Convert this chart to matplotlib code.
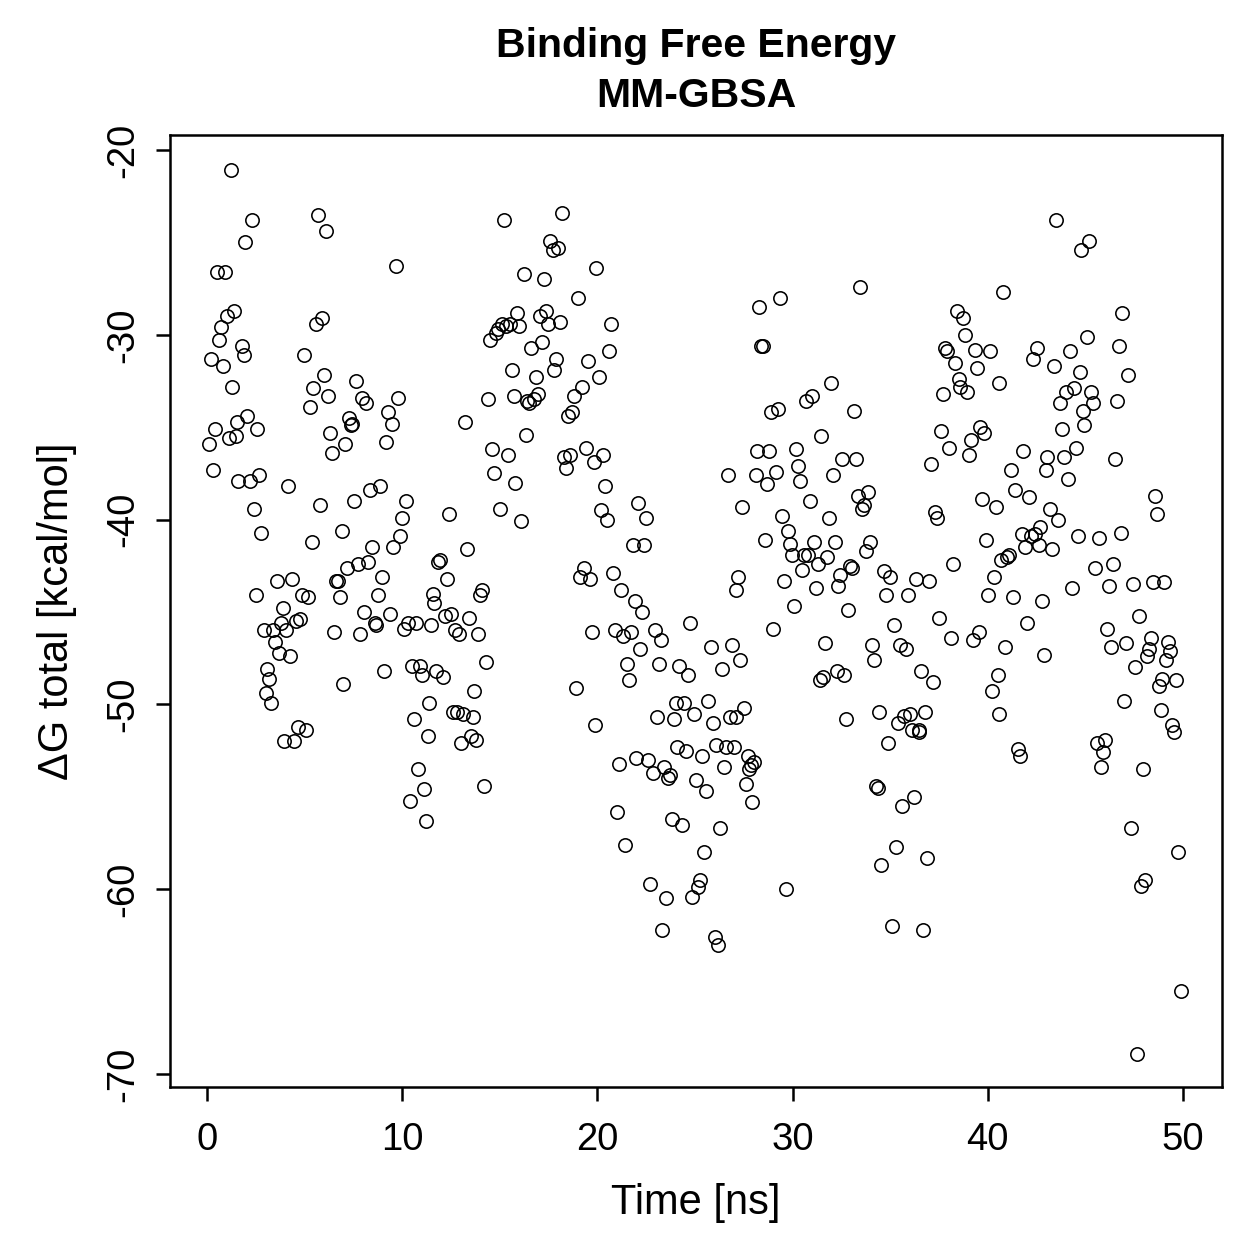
import matplotlib
matplotlib.use("Agg")
import matplotlib.pyplot as plt

# Time [ns] and dG total [kcal/mol]
time_ns = [
0.1,0.2,0.3,0.4,0.5,0.6,0.7,0.8,0.9,1.0,1.1,1.2,1.3,1.4,1.5,1.55,1.6,1.8,1.9,1.95,
2.05,2.2,2.3,2.4,2.5,2.55,2.65,2.75,2.9,3.0,3.05,3.15,3.3,3.4,3.5,3.6,3.7,3.8,3.9,3.95,
4.05,4.15,4.25,4.35,4.45,4.55,4.65,4.75,4.85,4.95,5.05,5.15,5.25,5.4,5.45,5.6,5.7,5.8,5.9,6.0,
6.1,6.2,6.3,6.4,6.5,6.6,6.7,6.8,6.9,6.95,7.05,7.15,7.25,7.35,7.45,7.55,7.65,7.75,7.85,7.95,
8.05,8.15,8.25,8.35,8.45,8.6,8.65,8.75,8.85,8.95,9.05,9.15,9.25,9.35,9.45,9.55,9.7,9.8,9.9,10.0,
10.1,10.2,10.3,10.4,10.5,10.6,10.7,10.8,10.9,11.0,11.1,11.2,11.3,11.35,11.45,11.55,11.65,11.75,11.85,11.95,
12.1,12.2,12.3,12.4,12.5,12.6,12.7,12.8,12.9,13.0,13.1,13.2,13.3,13.4,13.5,13.6,13.7,13.8,13.9,14.0,
14.1,14.2,14.3,14.4,14.5,14.6,14.7,14.8,14.9,15.0,15.1,15.2,15.3,15.4,15.5,15.6,15.7,15.8,15.9,16.0,
16.1,16.25,16.35,16.4,16.5,16.6,16.75,16.85,16.95,17.05,17.15,17.25,17.35,17.45,17.55,17.7,17.8,17.9,18.0,18.1,
18.2,18.3,18.4,18.5,18.6,18.7,18.8,18.9,19.0,19.1,19.2,19.3,19.4,19.5,19.6,19.7,19.8,19.9,19.95,20.1,
20.2,20.3,20.4,20.5,20.6,20.7,20.8,20.9,21.0,21.1,21.2,21.3,21.4,21.5,21.6,21.7,21.8,21.9,22.0,22.1,
22.2,22.3,22.4,22.5,22.6,22.7,22.85,22.95,23.05,23.15,23.25,23.3,23.4,23.5,23.6,23.7,23.8,23.9,24.0,24.1,
24.2,24.35,24.45,24.55,24.65,24.75,24.85,24.95,25.05,25.15,25.25,25.35,25.45,25.55,25.65,25.8,25.9,26.0,26.1,26.2,
26.3,26.4,26.5,26.6,26.7,26.8,26.9,27.0,27.1,27.1,27.2,27.3,27.4,27.5,27.6,27.7,27.75,27.85,27.9,28.0,
28.1,28.2,28.3,28.4,28.5,28.6,28.7,28.8,28.9,29.0,29.15,29.25,29.35,29.45,29.55,29.65,29.75,29.85,29.95,30.05,
30.15,30.3,30.4,30.5,30.6,30.7,30.8,30.9,31.0,31.1,31.2,31.3,31.4,31.45,31.55,31.65,31.75,31.85,31.95,32.05,
32.15,32.25,32.35,32.45,32.55,32.65,32.75,32.85,32.95,33.05,33.15,33.25,33.35,33.45,33.55,33.65,33.75,33.85,33.95,34.05,
34.15,34.25,34.35,34.45,34.55,34.7,34.8,34.9,35.0,35.1,35.2,35.3,35.4,35.5,35.6,35.7,35.8,35.9,36.0,36.1,
36.2,36.3,36.45,36.5,36.6,36.7,36.8,36.9,37.0,37.1,37.2,37.3,37.4,37.5,37.6,37.7,37.8,37.9,38.0,38.1,
38.2,38.3,38.4,38.5,38.6,38.75,38.85,38.95,39.05,39.15,39.25,39.35,39.45,39.55,39.6,39.7,39.8,39.9,40.0,40.1,
40.2,40.3,40.4,40.5,40.55,40.6,40.7,40.8,40.9,41.0,41.1,41.2,41.3,41.4,41.55,41.65,41.75,41.8,41.9,42.0,
42.1,42.2,42.3,42.4,42.5,42.6,42.7,42.8,42.9,43.0,43.05,43.2,43.3,43.4,43.5,43.6,43.7,43.8,43.9,44.0,
44.1,44.2,44.3,44.4,44.5,44.6,44.7,44.8,44.9,44.95,45.1,45.2,45.3,45.4,45.5,45.6,45.7,45.8,45.9,46.0,
46.1,46.2,46.3,46.4,46.5,46.6,46.7,46.8,46.9,47.0,47.1,47.2,47.35,47.45,47.55,47.65,47.75,47.85,47.95,48.05,
48.15,48.25,48.35,48.45,48.55,48.65,48.75,48.85,48.95,49.05,49.15,49.25,49.35,49.45,49.55,49.65,49.75,49.9,
]

dg_total = [
-35.9,-31.3,-37.3,-35.1,-26.6,-30.3,-29.6,-31.7,-26.6,-29.0,-35.6,-21.1,-32.8,-28.7,-35.5,-34.7,-37.9,-30.6,-31.1,-25.0,
-34.4,-37.9,-23.8,-39.4,-44.1,-35.1,-37.6,-40.7,-46.0,-49.4,-48.1,-48.6,-49.9,-46.0,-46.6,-43.3,-47.2,-45.6,-44.8,-52.0,
-46.0,-38.2,-47.4,-43.2,-52.0,-45.5,-51.2,-45.4,-44.1,-31.1,-51.4,-44.2,-33.9,-41.2,-32.9,-29.4,-23.5,-39.2,-29.1,-32.2,
-24.4,-33.3,-35.3,-36.4,-46.1,-43.3,-43.3,-44.2,-40.6,-48.9,-35.9,-42.6,-34.5,-34.9,-34.8,-39.0,-32.5,-42.4,-46.2,-33.4,
-45.0,-33.7,-42.3,-38.4,-41.5,-45.6,-45.7,-44.1,-38.2,-43.1,-48.2,-35.8,-34.2,-45.1,-34.8,-41.5,-26.3,-33.4,-40.9,-39.9,
-45.9,-39.0,-45.6,-55.2,-47.9,-50.8,-45.6,-53.5,-47.9,-48.4,-54.6,-56.3,-51.7,-49.9,-45.7,-44.0,-44.5,-48.2,-42.3,-42.2,
-48.5,-45.2,-43.2,-39.7,-45.1,-50.4,-46.0,-50.4,-46.2,-52.1,-50.5,-34.7,-41.6,-45.3,-51.7,-50.7,-49.3,-51.9,-46.2,-44.1,
-43.8,-54.4,-47.7,-33.5,-30.3,-36.2,-37.5,-29.9,-29.7,-39.4,-29.4,-23.8,-29.5,-36.5,-29.4,-31.9,-33.3,-38.0,-28.8,-29.5,
-40.1,-26.7,-35.4,-33.6,-33.7,-30.7,-33.5,-32.3,-33.2,-29.0,-30.4,-27.0,-28.7,-29.4,-24.9,-25.4,-31.9,-31.3,-25.3,-29.3,
-23.4,-36.6,-37.2,-34.4,-36.5,-34.2,-33.3,-49.1,-28.0,-43.1,-32.8,-42.6,-36.1,-31.4,-43.2,-46.1,-36.9,-51.1,-26.4,-32.3,
-39.5,-36.5,-38.2,-40.0,-30.9,-29.4,-42.9,-46.0,-55.8,-53.2,-43.8,-46.3,-57.6,-47.8,-48.7,-46.1,-41.4,-44.4,-52.9,-39.1,
-47.0,-45.0,-41.4,-39.9,-53.0,-59.7,-53.7,-46.0,-50.7,-47.8,-46.5,-62.2,-53.4,-60.5,-54.0,-53.8,-56.2,-50.8,-49.9,-52.3,
-47.9,-56.5,-49.9,-52.5,-48.4,-45.6,-60.4,-50.5,-54.1,-59.9,-59.5,-52.8,-58.0,-54.7,-49.8,-46.9,-51.0,-62.6,-52.2,-63.0,
-56.7,-48.1,-53.4,-52.3,-37.6,-50.7,-46.8,-52.3,-50.7,-43.8,-43.1,-47.6,-39.3,-50.2,-54.3,-52.8,-53.5,-53.3,-55.3,-53.1,
-37.6,-36.3,-28.5,-30.6,-30.6,-41.1,-38.1,-36.3,-34.2,-45.9,-37.4,-34.0,-28.0,-39.8,-43.3,-60.0,-40.6,-41.3,-41.9,-44.7,
-36.2,-37.1,-37.9,-42.7,-41.9,-33.6,-41.9,-39.0,-33.3,-41.2,-43.7,-42.4,-48.7,-35.5,-48.5,-46.7,-42.0,-39.9,-32.6,-37.6,
-41.2,-48.2,-43.6,-43.0,-36.7,-48.4,-50.8,-44.9,-42.5,-42.6,-34.1,-36.7,-38.7,-27.4,-39.4,-39.2,-41.7,-38.5,-41.2,-46.8,
-47.6,-54.4,-54.5,-50.4,-58.7,-42.8,-44.1,-52.1,-43.1,-62.0,-45.7,-57.7,-51.0,-46.8,-55.5,-50.6,-47.0,-44.1,-50.5,-51.4,
-55.0,-43.2,-51.5,-51.4,-48.2,-62.2,-50.4,-58.3,-43.3,-37.0,-48.8,-39.6,-39.9,-45.3,-35.2,-33.2,-30.7,-30.9,-36.1,-46.4,
-42.4,-31.5,-28.7,-32.4,-32.8,-29.1,-30.0,-33.1,-36.5,-35.7,-46.5,-30.8,-31.8,-46.1,-35.0,-38.9,-35.3,-41.1,-44.1,-30.9,
-49.3,-43.1,-39.3,-48.4,-50.5,-32.6,-42.2,-27.7,-46.9,-42.0,-41.9,-37.3,-44.2,-38.4,-52.4,-52.8,-40.8,-36.3,-41.5,-45.6,
-38.8,-40.9,-31.3,-40.8,-30.7,-41.4,-40.4,-44.4,-47.3,-37.3,-36.6,-39.4,-41.6,-31.7,-23.8,-40.0,-33.7,-35.1,-36.6,-33.1,
-37.8,-30.9,-43.7,-32.9,-36.1,-40.9,-32.0,-25.4,-34.1,-34.9,-30.1,-24.9,-33.1,-33.7,-42.6,-52.1,-41.0,-53.4,-52.6,-51.9,
-45.9,-43.6,-46.9,-42.4,-36.7,-33.6,-30.6,-40.7,-28.8,-49.8,-46.7,-32.2,-56.7,-43.5,-48.0,-68.9,-45.2,-59.8,-53.5,-59.5,
-47.4,-47.0,-46.4,-43.4,-38.7,-39.7,-49.0,-50.3,-48.6,-43.4,-47.6,-46.6,-47.1,-51.1,-51.5,-48.7,-58.0,-65.5,
]

x_ticks = [0, 10, 20, 30, 40, 50]
y_ticks = [-70, -60, -50, -40, -30, -20]
title_text = "Binding Free Energy\nMM-GBSA"
x_label = "Time [ns]"
y_label = "\u0394G total [kcal/mol]"

plt.rcParams['font.family'] = ['Liberation Sans', 'DejaVu Sans']

W, H = 1259, 1259
fig = plt.figure(figsize=(W / 100, H / 100), dpi=100)
ax = fig.add_axes([170 / W, 1 - 1087 / H, (1222 - 170) / W, (1087 - 135) / H])

ax.plot(time_ns, dg_total, linestyle='none', marker='o', markersize=9.6,
        markerfacecolor='none', markeredgecolor='black', markeredgewidth=1.15)

ax.set_xlim(-1.9, 52.0)
ax.set_ylim(-70.70, -19.19)
ax.set_xticks(x_ticks)
ax.set_yticks(y_ticks)
ax.set_xticklabels([str(v) for v in x_ticks])
ax.set_yticklabels([str(v) for v in y_ticks], rotation=90, va='center')

for s in ax.spines.values():
    s.set_linewidth(1.8)
ax.tick_params(axis='both', direction='out', length=10, width=1.8,
               labelsize=27.5, colors='black')
ax.tick_params(axis='x', pad=15)
ax.tick_params(axis='y', pad=11)

ax.set_xlabel(x_label, fontsize=30, labelpad=18)
ax.set_ylabel(y_label, fontsize=30, labelpad=20)
ax.set_title(title_text, fontsize=29.5, fontweight='bold', pad=20, linespacing=1.42)

fig.savefig("out.png", dpi=100)
